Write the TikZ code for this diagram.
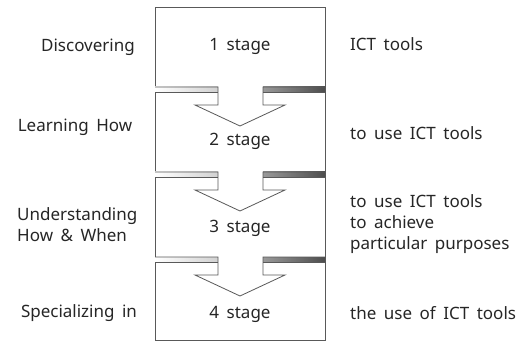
\documentclass[tikz,border=0pt]{standalone}
\usepackage{fontspec}
\setmainfont[WordSpace=1.7]{Noto Sans}
\begin{document}
\begin{tikzpicture}[x=1pt,y=-1pt,
  lbl/.style={inner sep=0pt,font=\fontsize{17}{21}\selectfont,text=black!85},
  edge/.style={draw=black!65,line width=0.8pt},
  lstrip/.style={left color=white,right color=black!18},
  rstrip/.style={left color=black!40,right color=black!70}]
\useasboundingbox (0,0) rectangle (525,342);
\fill[white] (0,0) rectangle (525,342);
% outer box
\draw[edge] (155,7) rectangle (325,340);
% bands
\foreach \y in {87,172,257}{
  \fill[lstrip] (155,\y) rectangle (218,\y+5);
  \fill[rstrip] (263,\y) rectangle (325,\y+5);
  \draw[edge,line join=miter] (155,\y) -- (218,\y) -- (218,\y+18) -- (195,\y+18) -- (240,\y+39) -- (285,\y+18) -- (263,\y+18) -- (263,\y) -- (325,\y);
  \draw[edge] (155,\y+5) -- (218,\y+5);
  \draw[edge] (263,\y+5) -- (325,\y+5);
}
% stage labels
\node[lbl] (s1) at (240,46) {1 stage};
\node[lbl] (s2) at (240,141) {2 stage};
\node[lbl] (s3) at (240,228) {3 stage};
\node[lbl] (s4) at (240,314) {4 stage};
% left labels
\node[lbl] (l1) at (88,47) {Discovering};
\node[lbl] (l2) at (75,127) {Learning How};
\node[lbl,align=left,anchor=west] (l3) at (17,225) {Understanding\\How \& When};
\node[lbl] (l4) at (79,313) {Specializing in};
% right labels
\node[lbl,anchor=west] (r1) at (350,44) {ICT tools};
\node[lbl,anchor=west] (r2) at (350,133) {to use ICT tools};
\node[lbl,align=left,anchor=west] (r3) at (350,224) {to use ICT tools\\to achieve\\particular purposes};
\node[lbl,anchor=west] (r4) at (350,313) {the use of ICT tools};
\end{tikzpicture}
\end{document}
